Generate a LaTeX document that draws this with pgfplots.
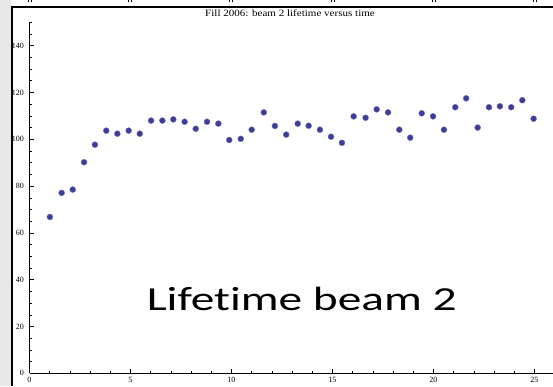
\documentclass[border=0pt]{standalone}
\usepackage{fontspec}
\setmainfont{Liberation Serif}
\newfontfamily\carlito[Ligatures={NoCommon}]{Carlito}
\usepackage{pgfplots}
\pgfplotsset{compat=1.18}
\definecolor{mmablue}{rgb}{0.24,0.24,0.6}
\definecolor{stripgray}{HTML}{E8E8E8}
\begin{document}
\begin{tikzpicture}
\useasboundingbox (0,0) rectangle (553pt,386pt);
\fill[stripgray] (0,0) rectangle (11pt,386pt);
\draw[line width=2pt] (11.8pt,0) -- (11.8pt,380pt);
\draw[line width=2pt] (10.8pt,379.3pt) -- (553pt,379.3pt);
\foreach \xx in {30,130,231,333,434,535}{
  \draw[line width=0.8pt] (\xx pt-1.2pt,386pt) -- (\xx pt-1.2pt,383.8pt);
  \draw[line width=0.8pt] (\xx pt+1.2pt,386pt) -- (\xx pt+1.2pt,384.2pt);
}
\node[anchor=base,inner sep=0pt,font=\fontsize{9.6}{11}\selectfont,xscale=1.15] at (290pt,369.3pt) {Fill 2006: beam 2 lifetime versus time};
\begin{axis}[
  at={(29.5pt,12.7pt)}, anchor=south west,
  scale only axis, width=523.5pt, height=351pt,
  xmin=0, xmax=25.92, ymin=0, ymax=150,
  axis x line*=bottom, axis y line*=left,
  axis line style={line width=0.7pt, -},
  tick align=inside,
  major tick length=4pt, minor tick length=2.4pt,
  every tick/.style={black, line width=0.6pt},
  xtick={0,5,10,15,20,25}, minor xtick={1,2,3,4,6,7,8,9,11,12,13,14,16,17,18,19,21,22,23,24},
  ytick={0,20,40,60,80,100,120,140}, minor ytick={5,10,15,25,30,35,45,50,55,65,70,75,85,90,95,105,110,115,125,130,135,145,150},
  tick label style={font=\fontsize{8}{9}\selectfont},
  /pgf/number format/assume math mode=true,
  yticklabel style={xshift=-2pt},
  clip=false,
]
\addplot[only marks, mark=*, mark size=3pt, mmablue, mark options={draw=mmablue!70!white, line width=0.4pt, fill=mmablue}] coordinates {
(1.01,66.8) (1.59,77.1) (2.14,78.5) (2.70,90.2) (3.24,97.7) (3.80,103.7)
(4.35,102.4) (4.91,103.7) (5.46,102.4) (6.02,108.0) (6.58,108.0) (7.12,108.5)
(7.68,107.5) (8.23,104.5) (8.79,107.5) (9.35,106.7) (9.89,99.7) (10.46,100.2)
(11.00,104.1) (11.60,111.5) (12.15,105.7) (12.71,102.0) (13.28,106.7) (13.82,105.8)
(14.38,104.1) (14.93,101.1) (15.47,98.5) (16.05,109.8) (16.64,109.2) (17.19,112.8)
(17.75,111.5) (18.31,104.1) (18.85,100.7) (19.42,111.1) (19.98,109.8) (20.52,104.1)
(21.08,113.7) (21.62,117.5) (22.19,105.0) (22.75,113.7) (23.29,114.1) (23.85,113.7)
(24.40,116.7) (24.96,108.8)
};
\end{axis}
\node[anchor=base west,inner sep=0pt,font=\carlito\fontsize{33.6}{38}\selectfont,xscale=1.41] at (146.5pt,76pt) {Lifetime beam 2};
\end{tikzpicture}
\end{document}
